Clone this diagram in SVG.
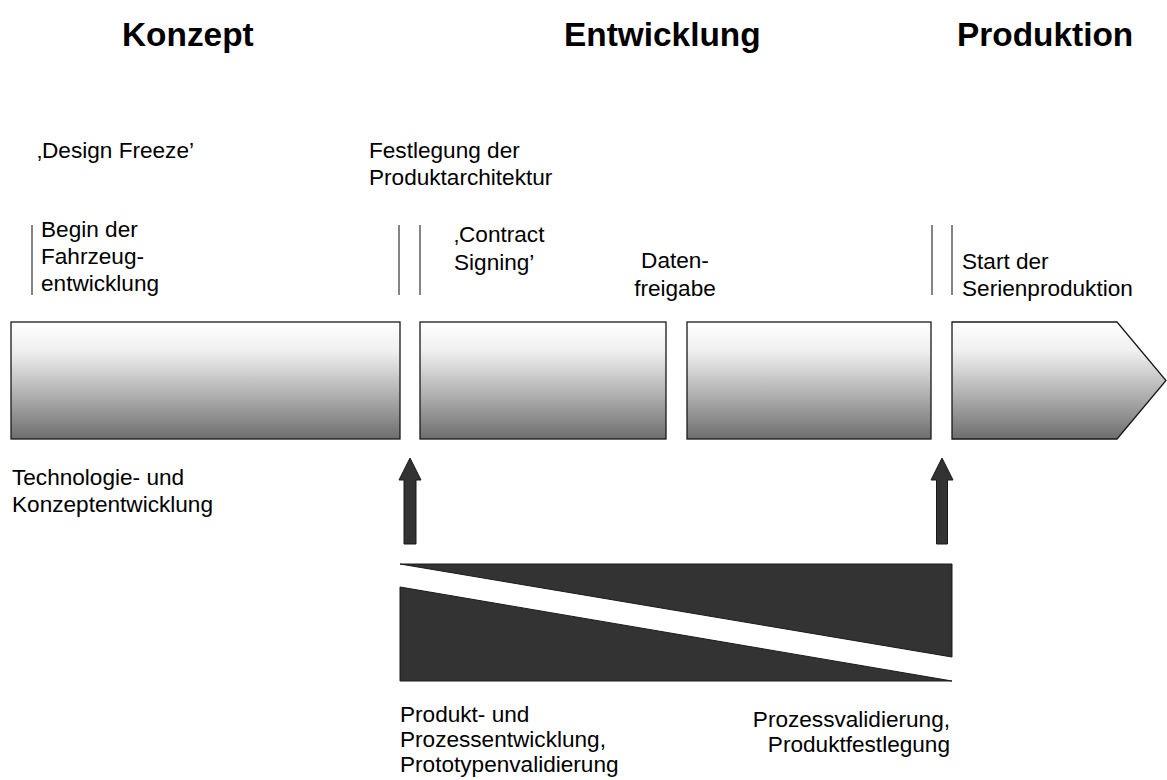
<svg xmlns="http://www.w3.org/2000/svg" width="1167" height="780" viewBox="0 0 1167 780">
<defs>
<linearGradient id="g" x1="0" y1="0" x2="0" y2="1">
<stop offset="0" stop-color="#ffffff"/>
<stop offset="0.25" stop-color="#efefef"/>
<stop offset="0.6" stop-color="#b4b4b4"/>
<stop offset="1" stop-color="#6e6e6e"/>
</linearGradient>
<style>
.t{font-family:"Liberation Sans",Arial,sans-serif;font-size:22.6px;fill:#000}
.h{font-family:"Liberation Sans",Arial,sans-serif;font-size:33.4px;font-weight:bold;fill:#000}
.box{fill:url(#g);stroke:#1a1a1a;stroke-width:1.3}
.ms{stroke:#333;stroke-width:1.2;fill:none}
.dark{fill:#333;stroke:#1a1a1a;stroke-width:1}
</style>
</defs>
<rect width="1167" height="780" fill="#fff"/>
<g id="titles">
<text class="h" x="122" y="46">Konzept</text>
<text class="h" x="564" y="46">Entwicklung</text>
<text class="h" x="957" y="46">Produktion</text>
</g>
<g id="milestones">
<text class="t" x="37" y="158">‚Design Freeze’</text>
<text class="t" x="369" y="158">Festlegung der</text>
<text class="t" x="369" y="185">Produktarchitektur</text>
<line class="ms" x1="32" y1="225" x2="32" y2="295"/>
<text class="t" x="41" y="237">Begin der</text>
<text class="t" x="41" y="264">Fahrzeug-</text>
<text class="t" x="41" y="291">entwicklung</text>
<line class="ms" x1="399" y1="225" x2="399" y2="295"/>
<line class="ms" x1="420" y1="225" x2="420" y2="295"/>
<text class="t" x="454" y="242">‚Contract</text>
<text class="t" x="454" y="270">Signing’</text>
<text class="t" x="675" y="268" text-anchor="middle">Daten-</text>
<text class="t" x="675" y="296" text-anchor="middle">freigabe</text>
<line class="ms" x1="932" y1="225" x2="932" y2="295"/>
<line class="ms" x1="952" y1="225" x2="952" y2="295"/>
<text class="t" x="962" y="269">Start der</text>
<text class="t" x="962" y="296">Serienproduktion</text>
</g>
<g id="phases">
<rect id="phase1" class="box" x="11" y="322" width="389" height="117"/>
<rect id="phase2" class="box" x="420" y="322" width="246" height="117"/>
<rect id="phase3" class="box" x="687" y="322" width="244" height="117"/>
<polygon id="phase4" class="box" points="952,322 1117,322 1166,380.5 1117,439 952,439"/>
</g>
<g id="labels">
<text class="t" x="12" y="485">Technologie- und</text>
<text class="t" x="12" y="512">Konzeptentwicklung</text>
</g>
<g id="connectors">
<polygon class="dark" points="410,458 421,480 416,480 416,544 404,544 404,480 399,480"/>
<polygon class="dark" points="942,458 953,480 947.5,480 947.5,544 936.5,544 936.5,480 931,480"/>
</g>
<g id="wedges">
<polygon class="dark" points="400,564 952,564 952,657"/>
<polygon class="dark" points="400,587 952,681 400,681"/>
</g>
<g id="bottom-labels">
<text class="t" x="400" y="722">Produkt- und</text>
<text class="t" x="400" y="747">Prozessentwicklung,</text>
<text class="t" x="400" y="772">Prototypenvalidierung</text>
<text class="t" x="950" y="727" text-anchor="end">Prozessvalidierung,</text>
<text class="t" x="950" y="752" text-anchor="end">Produktfestlegung</text>
</g>
</svg>
